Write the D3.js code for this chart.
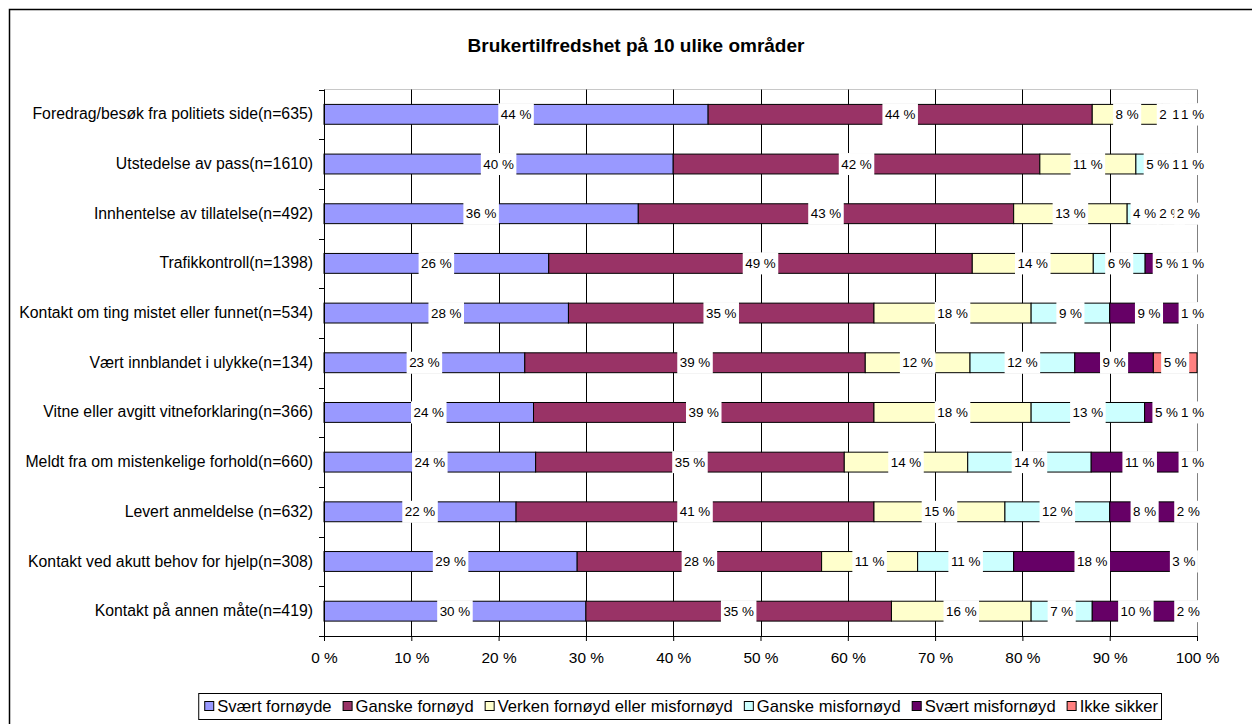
<!DOCTYPE html>
<html>
<head>
<meta charset="utf-8">
<script src="https://cdn.jsdelivr.net/npm/d3@7"></script>
<style>
  html, body { margin: 0; padding: 0; background: #fff; }
  svg { display: block; font-family: Arial, "Liberation Sans", sans-serif; }
</style>
</head>
<body>
<svg id="chart" width="1252" height="724"></svg>
<script>
// Survey categories (top to bottom)
const categories = [
  "Foredrag/besøk fra politiets side(n=635)",
  "Utstedelse av pass(n=1610)",
  "Innhentelse av tillatelse(n=492)",
  "Trafikkontroll(n=1398)",
  "Kontakt om ting mistet eller funnet(n=534)",
  "Vært innblandet i ulykke(n=134)",
  "Vitne eller avgitt vitneforklaring(n=366)",
  "Meldt fra om mistenkelige forhold(n=660)",
  "Levert anmeldelse (n=632)",
  "Kontakt ved akutt behov for hjelp(n=308)",
  "Kontakt på annen måte(n=419)"
];

const seriesNames = [
  "Svært fornøyde",
  "Ganske fornøyd",
  "Verken fornøyd eller misfornøyd",
  "Ganske misfornøyd",
  "Svært misfornøyd",
  "Ikke sikker"
];

// Percentages per answer, one value per category
const sværtFornøyde    = [44, 40, 36, 26, 28, 23, 24, 24, 22, 29, 30];
const ganskeFornøyd    = [44, 42, 43, 49, 35, 39, 39, 35, 41, 28, 35];
const verken           = [ 8, 11, 13, 14, 18, 12, 18, 14, 15, 11, 16];
const ganskeMisfornøyd = [ 2,  5,  4,  6,  9, 12, 13, 14, 12, 11,  7];
const sværtMisfornøyd  = [ 1,  1,  2,  5,  9,  9,  5, 11,  8, 18, 10];
const ikkeSikker       = [ 1,  1,  2,  1,  1,  5,  1,  1,  2,  3,  2];

const xTicks = [0, 0.1, 0.2, 0.3, 0.4, 0.5, 0.6, 0.7, 0.8, 0.9, 1];

const colors = ["#9999FF", "#993366", "#FFFFCC", "#CCFFFF", "#660066", "#FF8080"];

const seriesValues = [sværtFornøyde, ganskeFornøyd, verken, ganskeMisfornøyd, sværtMisfornøyd, ikkeSikker];

const rows = categories.map((c, i) => {
  const r = { category: c };
  seriesNames.forEach((s, k) => { r[s] = seriesValues[k][i]; });
  return r;
});

const FONT = "Arial, 'Liberation Sans', sans-serif";
const svg = d3.select("#chart");

// outer frame
svg.append("rect")
  .attr("x", 9.5).attr("y", 9.5)
  .attr("width", 1300).attr("height", 800)
  .attr("fill", "#fff").attr("stroke", "#000").attr("stroke-width", 1.5);

// title
svg.append("text")
  .attr("x", 636).attr("y", 52)
  .attr("text-anchor", "middle")
  .attr("font-size", 19).attr("font-weight", "bold")
  .text("Brukertilfredshet på 10 ulike områder");

const plot = { left: 324, right: 1197, top: 89.5, bottom: 636 };

const x = d3.scaleLinear().domain([0, 1]).range([plot.left, plot.right]);
const y = d3.scaleBand().domain(categories)
  .range([plot.top, plot.bottom])
  .paddingInner(0.6).paddingOuter(0.3);

// 100 % stacked layout
const stacked = d3.stack().keys(seriesNames).offset(d3.stackOffsetExpand)(rows);

// plot area border (top)
svg.append("line")
  .attr("x1", plot.left).attr("x2", plot.right)
  .attr("y1", plot.top).attr("y2", plot.top)
  .attr("stroke", "#c8c8c8");

// vertical gridlines
svg.append("g").selectAll("line")
  .data(xTicks.slice(1))
  .join("line")
  .attr("x1", d => Math.round(x(d)) + 0.5).attr("x2", d => Math.round(x(d)) + 0.5)
  .attr("y1", plot.top).attr("y2", plot.bottom)
  .attr("stroke", d => d === 1 ? "#808080" : "#000")
  .attr("stroke-width", 1);

// bars
const layer = svg.append("g").selectAll("g")
  .data(stacked)
  .join("g")
  .attr("fill", (d, i) => colors[i]);

layer.selectAll("rect")
  .data(d => d.map(p => ({ p, cat: p.data.category })))
  .join("rect")
  .attr("x", d => x(d.p[0]))
  .attr("y", d => y(d.cat))
  .attr("width", d => Math.max(0, x(d.p[1]) - x(d.p[0])))
  .attr("height", y.bandwidth())
  .attr("stroke", "#000")
  .attr("stroke-width", 1);

// axes
const xAxis = d3.axisBottom(x)
  .tickValues(xTicks)
  .tickFormat(d => Math.round(d * 100) + " %")
  .tickSize(5).tickSizeOuter(0).tickPadding(11);

const gx = svg.append("g")
  .attr("transform", `translate(0,${plot.bottom})`)
  .call(xAxis);
gx.select(".domain").attr("stroke", "#000");
gx.selectAll(".tick line").attr("stroke", "#000");
gx.selectAll(".tick text")
  .attr("font-size", 15.4).attr("fill", "#000")
  .attr("font-family", FONT);

const yAxis = d3.axisLeft(y).tickSize(0).tickPadding(11);
const gy = svg.append("g")
  .attr("transform", `translate(${plot.left},0)`)
  .call(yAxis);
gy.select(".domain").remove();
gy.selectAll(".tick text")
  .attr("font-size", 15.8).attr("fill", "#000")
  .attr("font-family", FONT);

// y axis line and tick marks between categories
svg.append("line")
  .attr("x1", plot.left + 0.5).attr("x2", plot.left + 0.5)
  .attr("y1", plot.top).attr("y2", plot.bottom)
  .attr("stroke", "#000");
const boundaries = d3.range(categories.length + 1).map(i => plot.top + i * y.step());
svg.append("g").selectAll("line")
  .data(boundaries)
  .join("line")
  .attr("x1", plot.left - 5).attr("x2", plot.left)
  .attr("y1", d => Math.round(d) + 0.5).attr("y2", d => Math.round(d) + 0.5)
  .attr("stroke", "#000");

// value labels with white boxes, series by series
const labelLayer = svg.append("g");
stacked.forEach((s, k) => {
  s.forEach(p => {
    const cx = (x(p[0]) + x(p[1])) / 2;
    const cy = y(p.data.category) + y.bandwidth() / 2;
    const g = labelLayer.append("g");
    const rect = g.append("rect").attr("fill", "#fff");
    const t = g.append("text")
      .attr("x", cx).attr("y", cy)
      .attr("text-anchor", "middle")
      .attr("dominant-baseline", "central")
      .attr("font-size", 13.4).attr("fill", "#000")
      .text(p.data[s.key] + " %");
    const w = t.node().getComputedTextLength();
    rect.attr("x", cx - w / 2 - 2.5).attr("y", cy - 11)
      .attr("width", w + 5).attr("height", 22);
  });
});

// legend
const legend = svg.append("g");
const legendBox = legend.append("rect")
  .attr("fill", "#fff").attr("stroke", "#000").attr("stroke-width", 1);
let lx = 0;
seriesNames.forEach((name, i) => {
  const it = legend.append("g").attr("transform", `translate(${lx},0)`);
  it.append("rect")
    .attr("x", 0.5).attr("y", -4.5).attr("width", 9).attr("height", 9)
    .attr("fill", colors[i]).attr("stroke", "#000");
  const t = it.append("text")
    .attr("x", 13).attr("y", 0)
    .attr("dominant-baseline", "central")
    .attr("font-size", 16.6).attr("fill", "#000")
    .text(name);
  lx += 13 + t.node().getComputedTextLength() + 11;
});
const legendW = lx - 11;
const legendRight = 1162, legendCy = 706;
legend.attr("transform", `translate(${legendRight - 4 - legendW},${legendCy})`);
legendBox.attr("x", -5.5).attr("y", -12.5).attr("width", legendW + 9).attr("height", 26);
</script>
</body>
</html>
